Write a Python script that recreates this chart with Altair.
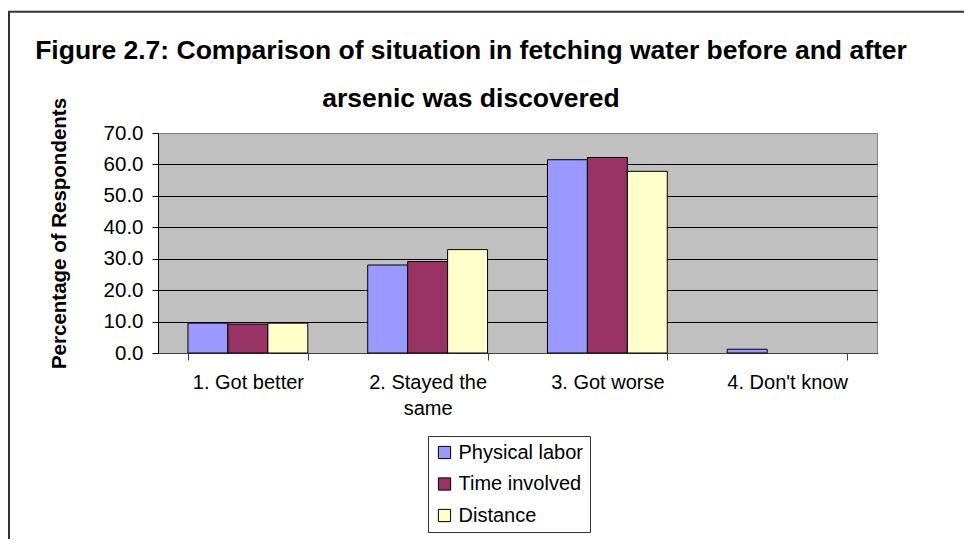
import altair as alt
import pandas as pd

categories = ["1. Got better", "2. Stayed the same", "3. Got worse", "4. Don't know"]
series = ["Physical labor", "Time involved", "Distance"]
physical_labor = [9.5, 28.0, 61.5, 1.2]
time_involved = [9.2, 29.1, 62.2, 0.0]
distance = [9.5, 32.9, 57.8, 0.0]
colors = ["#9999FF", "#993366", "#FFFFCC"]
y_ticks = [0, 10, 20, 30, 40, 50, 60, 70]
title_lines = [
    "Figure 2.7: Comparison of situation in fetching water before and after",
    "arsenic was discovered",
]
y_title = "Percentage of Respondents"

rows = []
for s, vals in zip(series, [physical_labor, time_involved, distance]):
    for c, v in zip(categories, vals):
        rows.append({"category": c, "series": s, "value": v})
df = pd.DataFrame(rows)

FONT = "Liberation Sans"

bars = alt.Chart(df).mark_bar(stroke="black", strokeWidth=1).encode(
    x=alt.X(
        "category:N",
        sort=categories,
        scale=alt.Scale(paddingInner=1 / 3, paddingOuter=1 / 6),
        axis=alt.Axis(
            title=None,
            labelAngle=0,
            labelFontSize=20,
            labelFont=FONT,
            labelColor="black",
            tickBand="extent",
            tickSize=7,
            tickColor="#404040",
            domainColor="#404040",
            labelPadding=12,
            labelLineHeight=26,
            labelExpr="datum.value == '2. Stayed the same' ? ['2. Stayed the', 'same'] : datum.value",
            grid=False,
        ),
    ),
    xOffset=alt.XOffset("series:N", sort=series, scale=alt.Scale(paddingInner=0, paddingOuter=0)),
    y=alt.Y(
        "value:Q",
        scale=alt.Scale(domain=[0, 70], nice=False),
        axis=alt.Axis(
            values=y_ticks,
            format=".1f",
            title=y_title,
            titleFont=FONT,
            titleFontSize=20.5,
            titleFontWeight="bold",
            titleColor="black",
            titleX=-93,
            titleY=100,
            titleBaseline="alphabetic",
            labelFontSize=20.5,
            labelFont=FONT,
            labelColor="black",
            labelPadding=9,
            tickSize=6,
            tickColor="black",
            domainColor="black",
            grid=True,
            gridColor={"condition": {"test": "datum.value === 70", "value": "#808080"}, "value": "black"},
            gridWidth=1,
        ),
    ),
    color=alt.Color(
        "series:N",
        sort=series,
        scale=alt.Scale(domain=series, range=colors),
        legend=alt.Legend(
            title=None,
            orient="none",
            legendX=270,
            legendY=303,
            strokeColor="#333333",
            fillColor="white",
            padding=6.5,
            symbolType="square",
            symbolSize=150,
            symbolStrokeColor="black",
            symbolStrokeWidth=1,
            symbolOpacity=1,
            labelFontSize=20,
            labelFont=FONT,
            labelColor="black",
            labelOffset=4,
            rowPadding=11.5,
        ),
    ),
    strokeOpacity=alt.condition(alt.datum.value == 0, alt.value(0), alt.value(1)),
)

frame = alt.Chart(alt.Data(values=[{}])).mark_rect(
    filled=False, stroke="#333333", strokeWidth=2
).encode(
    x=alt.value(-149),
    x2=alt.value(1000),
    y=alt.value(-121.3),
    y2=alt.value(600),
)

chart = alt.layer(bars, frame).properties(
    width=719,
    height=220,
    title=alt.TitleParams(
        text=title_lines,
        font=FONT,
        fontSize=26.5,
        fontWeight="bold",
        color="black",
        lineHeight=48,
        anchor="middle",
        dx=-46.5,
        offset=-102,
    ),
    autosize=alt.AutoSizeParams(type="none"),
    padding={"left": 150, "top": 125, "right": 87, "bottom": 186},
    background="white",
).configure_view(
    fill="#C0C0C0",
    stroke="#808080",
)

chart.save("out.html", embed_options={"renderer": "svg", "actions": False})
